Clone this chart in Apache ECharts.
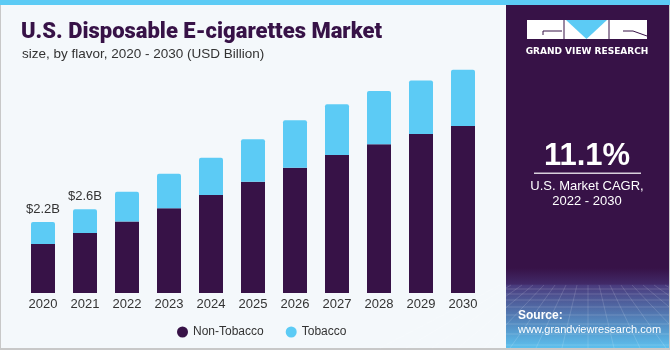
<!DOCTYPE html>
<html>
<head>
<meta charset="utf-8">
<script src="https://cdn.jsdelivr.net/npm/echarts@6/dist/echarts.min.js"></script>
<style>
  html, body { margin: 0; padding: 0; background: #f4f8fb; }
  #chart { width: 670px; height: 350px; }
</style>
</head>
<body>
<div id="chart"></div>
<script>
const years = ["2020", "2021", "2022", "2023", "2024", "2025", "2026", "2027", "2028", "2029", "2030"];
const nonTobacco = [1.52, 1.86, 2.22, 2.63, 3.04, 3.45, 3.88, 4.28, 4.61, 4.93, 5.18];
const tobacco = [0.68, 0.74, 0.92, 1.07, 1.15, 1.32, 1.48, 1.57, 1.65, 1.66, 1.74];
const totalLabels = ["$2.2B", "$2.6B"];

const purple = "#371247";
const skyBlue = "#5ccbf5";
const textColor = "#333333";

// decorative grid at the bottom of the side panel
const panelX = 506, panelW = 163;
const gridLines = [];
[289, 294, 300, 307, 315, 324, 334, 345].forEach((y) => {
  gridLines.push({
    type: "line",
    shape: { x1: panelX, y1: y, x2: panelX + panelW, y2: y },
    style: { stroke: "rgba(255,255,255,0.16)", lineWidth: 1 },
  });
});
for (let i = -8; i <= 8; i++) {
  gridLines.push({
    type: "line",
    shape: { x1: 588 + i * 11, y1: 285, x2: 588 + i * 26, y2: 348 },
    style: { stroke: "rgba(255,255,255,0.14)", lineWidth: 1 },
  });
}

const chart = echarts.init(document.getElementById("chart"));
chart.setOption({
  backgroundColor: "#f4f8fb",
  animation: false,
  title: [
    {
      text: "U.S. Disposable E-cigarettes Market",
      left: 16,
      top: 16,
      textStyle: { fontFamily: "Roboto", fontWeight: 900, fontSize: 22, color: purple },
    },
    {
      text: "size, by flavor, 2020 - 2030 (USD Billion)",
      left: 17,
      top: 42,
      textStyle: { fontFamily: "Liberation Sans", fontWeight: "normal", fontSize: 13.5, color: textColor },
    },
  ],
  legend: {
    left: 172,
    top: 321,
    icon: "circle",
    itemWidth: 11,
    itemHeight: 11,
    itemGap: 22,
    textStyle: { fontFamily: "Liberation Sans", fontSize: 12, color: textColor },
    data: ["Non-Tobacco", "Tobacco"],
  },
  grid: { left: 22, width: 462, top: 35, bottom: 57 },
  xAxis: {
    type: "category",
    data: years,
    axisLine: { show: false },
    axisTick: { show: false },
    axisLabel: { margin: 5, fontFamily: "Liberation Sans", fontSize: 13, color: textColor },
  },
  yAxis: {
    type: "value",
    min: 0,
    max: 8,
    show: false,
    splitLine: { show: false },
  },
  series: [
    {
      name: "Non-Tobacco",
      type: "bar",
      stack: "total",
      barWidth: 24,
      itemStyle: { color: purple },
      data: nonTobacco,
    },
    {
      name: "Tobacco",
      type: "bar",
      stack: "total",
      barWidth: 24,
      itemStyle: { color: skyBlue, borderRadius: [2, 2, 0, 0] },
      data: tobacco.map((v, i) =>
        i < totalLabels.length
          ? {
              value: v,
              label: {
                show: true,
                position: "top",
                distance: 6,
                formatter: totalLabels[i],
                fontFamily: "Liberation Sans",
                fontSize: 13,
                color: textColor,
              },
            }
          : v
      ),
    },
  ],
  graphic: [
    // frame
    { type: "rect", shape: { x: 0, y: 0, width: 670, height: 5 }, style: { fill: skyBlue } },
    { type: "rect", shape: { x: 0, y: 5, width: 1, height: 345 }, style: { fill: "#c8c8c8" } },
    { type: "rect", shape: { x: 0, y: 348, width: 670, height: 2 }, style: { fill: "#c8c8c8" } },
    // side panel
    { type: "rect", shape: { x: panelX, y: 5, width: panelW, height: 343 }, style: { fill: purple } },
    {
      type: "rect",
      shape: { x: panelX, y: 268, width: panelW, height: 80 },
      style: {
        fill: new echarts.graphic.LinearGradient(0, 0, 0, 1, [
          { offset: 0, color: purple },
          { offset: 0.2, color: "#412a68" },
          { offset: 0.22, color: "#4a3c7e" },
          { offset: 1, color: "#5cc0ee" },
        ]),
      },
    },
    ...gridLines,
    { type: "rect", shape: { x: 669, y: 5, width: 1, height: 343 }, style: { fill: "#c8c8c8" } },
    // logo
    { type: "rect", shape: { x: 527, y: 20, width: 120, height: 19 }, style: { fill: "#ffffff" } },
    { type: "polygon", shape: { points: [[566, 20], [607, 20], [586.5, 39]] }, style: { fill: skyBlue } },
    { type: "line", shape: { x1: 564, y1: 20, x2: 564, y2: 39 }, style: { stroke: purple, lineWidth: 1 } },
    { type: "line", shape: { x1: 609, y1: 20, x2: 609, y2: 39 }, style: { stroke: purple, lineWidth: 1 } },
    { type: "polyline", shape: { points: [[562, 31], [543, 31], [543, 35]] }, style: { stroke: purple, lineWidth: 1, fill: null } },
    { type: "polyline", shape: { points: [[623, 31], [633, 31], [647, 36]] }, style: { stroke: purple, lineWidth: 1, fill: null } },
    {
      type: "text",
      x: 587,
      y: 52,
      style: {
        text: "GRAND VIEW RESEARCH",
        fill: "#ffffff",
        font: "bold 9px 'DejaVu Sans'",
        align: "center",
        verticalAlign: "middle",
      },
    },
    // CAGR
    {
      type: "text",
      x: 587,
      y: 156,
      style: {
        text: "11.1%",
        fill: "#ffffff",
        font: "bold 31px 'Liberation Sans'",
        align: "center",
        verticalAlign: "middle",
      },
    },
    { type: "rect", shape: { x: 534, y: 172.5, width: 107, height: 1.5 }, style: { fill: "#d8d0dc" } },
    {
      type: "text",
      x: 587,
      y: 186,
      style: {
        text: "U.S. Market CAGR,",
        fill: "#ffffff",
        font: "13px 'Liberation Sans'",
        align: "center",
        verticalAlign: "middle",
      },
    },
    {
      type: "text",
      x: 587,
      y: 201,
      style: {
        text: "2022 - 2030",
        fill: "#ffffff",
        font: "13px 'Liberation Sans'",
        align: "center",
        verticalAlign: "middle",
      },
    },
    // source
    {
      type: "text",
      x: 518,
      y: 316,
      style: {
        text: "Source:",
        fill: "#ffffff",
        font: "bold 12px 'Liberation Sans'",
        verticalAlign: "middle",
      },
    },
    {
      type: "text",
      x: 518,
      y: 330,
      style: {
        text: "www.grandviewresearch.com",
        fill: "#ffffff",
        font: "11px 'Liberation Sans'",
        verticalAlign: "middle",
      },
    },
  ],
});
</script>
</body>
</html>
